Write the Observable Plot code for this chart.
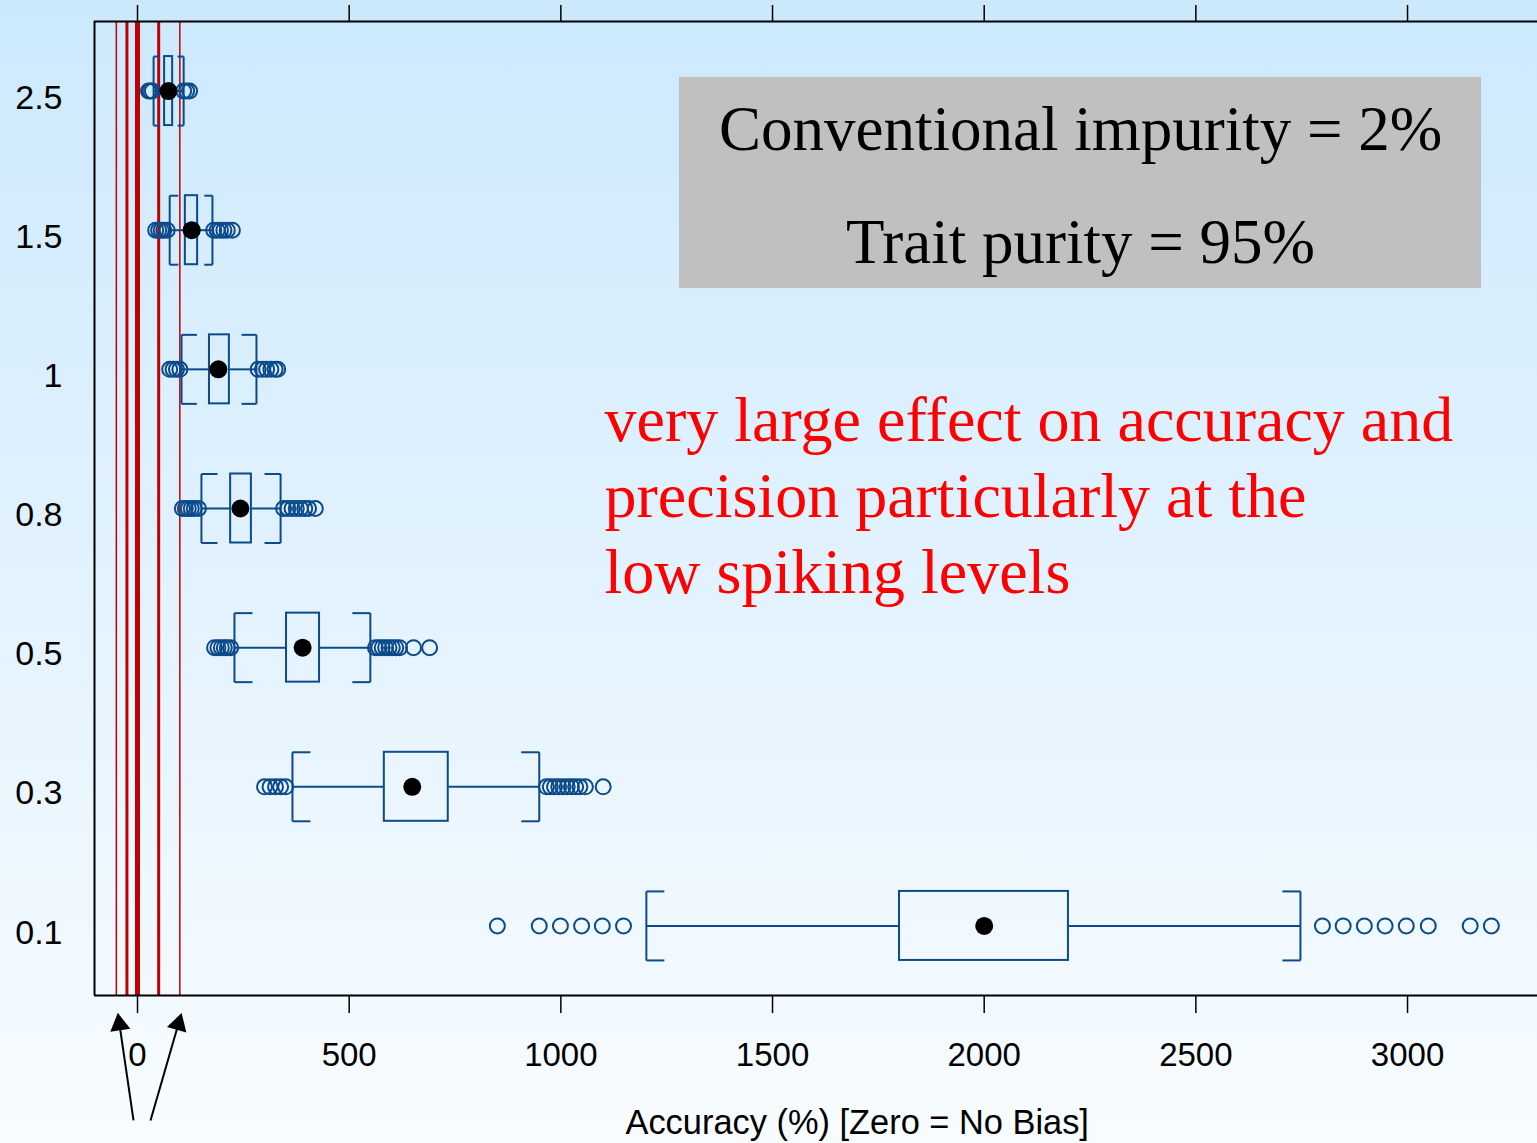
<!DOCTYPE html>
<html><head><meta charset="utf-8">
<script src="https://cdn.jsdelivr.net/npm/d3@7"></script>
<script src="https://cdn.jsdelivr.net/npm/@observablehq/plot@0.6"></script>
<style>
html,body{margin:0;padding:0;width:1537px;height:1143px;overflow:hidden;
background:linear-gradient(to bottom,#cce9fc 0%,#e4f3fe 55%,#f8fcff 100%);}
#chart svg{display:block;background:transparent;}
</style></head><body><div id="chart"></div>
<script>
// ---- data ----
const categories = ["0.1","0.3","0.5","0.8","1","1.5","2.5"];
const whiskerLow  = [1202, 366, 229, 151, 104,  76,  38];
const quartile1   = [1800, 583, 352, 220, 170, 113,  64];
const medians     = [2000, 649, 390, 243, 191, 128,  73];
const quartile3   = [2199, 734, 430, 269, 217, 142,  83];
const whiskerHigh = [2747, 949, 550, 338, 281, 177, 109];
const outlierValues = [
  [850, 949, 999, 1049, 1098, 1148, 2799, 2848, 2898, 2947, 2997, 3049, 3148, 3198],
  [300, 313, 326, 338, 350, 966, 975, 985, 995, 1005, 1015, 1025, 1035, 1045, 1058, 1100],
  [182, 190, 198, 205, 212, 220, 562, 570, 578, 586, 594, 602, 610, 619, 652, 690],
  [106, 113, 120, 127, 134, 144, 345, 355, 365, 375, 385, 395, 404, 420],
  [76, 84, 92, 100, 285, 295, 305, 315, 325, 331],
  [43, 50, 56, 62, 70, 180, 188, 196, 204, 212, 224],
  [26, 30, 35, 109, 116, 123]
];
const xTicks = [0, 500, 1000, 1500, 2000, 2500, 3000];
const refLines = [-50, -25, 0, 50, 100];
const boxLines = ["Conventional impurity = 2%", "Trait purity = 95%"];
const noteText = "very large effect on accuracy and\nprecision particularly at the\nlow spiking levels";
const xLabel = "Accuracy (%) [Zero = No Bias]";

// ---- layout / style ----
const W = 1537, H = 1143, mL = 94, mR = 0, mT = 21, mB = 148;
const xDomain = [-101.6, 3307], yDomain = [-0.5, 6.5];
const kx = (W - mL - mR) / (xDomain[1] - xDomain[0]);
const ky = (H - mT - mB) / (yDomain[1] - yDomain[0]);
const blue = "#0b4a8b";
const refWeight = {"-50": 1.5, "-25": 3, "0": 5, "50": 3, "100": 1.5};
const half = 0.248;

const stats = categories.map((c, i) => ({
  c, i, lo: whiskerLow[i], q1: quartile1[i], med: medians[i], q3: quartile3[i], hi: whiskerHigh[i],
  capLo: Math.min(0.55 * (quartile1[i] - whiskerLow[i]), 18 / kx),
  capHi: Math.min(0.55 * (whiskerHigh[i] - quartile3[i]), 18 / kx)
}));
const outRows = categories.flatMap((c, i) => outlierValues[i].map(v => ({c, i, v})));

// arrows (annotation) pointing to reference lines
const arrowRows = [
  {x1: -9.4, y1: -1.398, x2: -45, y2: -0.658},
  {x1: 30.7, y1: -1.398, x2: 101, y2: -0.658}
].map(a => {
  const dxp = (a.x2 - a.x1) * kx, dyp = -(a.y2 - a.y1) * ky;
  const len = Math.hypot(dxp, dyp);
  const ux = dxp / len, uy = dyp / len;
  const back = 7;
  return {...a, hx: a.x2 - ux * back / kx, hy: a.y2 + uy * back / ky,
          rot: Math.atan2(ux, -uy) * 180 / Math.PI};
});

const serif = "'Liberation Serif', 'Times New Roman', serif";
const plot = Plot.plot({
  width: W, height: H,
  marginLeft: mL, marginRight: mR, marginTop: mT, marginBottom: mB,
  style: {background: "transparent", fontFamily: "'Liberation Sans', Arial, sans-serif", fontSize: "33px", color: "black"},
  x: {domain: xDomain, range: [mL, W - mR]},
  y: {domain: yDomain},
  marks: [
    Plot.ruleX(refLines, {x: d => d, stroke: "#c00000", strokeWidth: d => refWeight[String(d)]}),
    // frame (left, top, bottom)
    Plot.ruleX([xDomain[0]], {stroke: "black", strokeWidth: 2}),
    Plot.ruleY(yDomain, {stroke: "black", strokeWidth: 2}),
    // grey annotation box
    Plot.rect([{x1: 1280.3, x2: 3174.8, y1: 4.581, y2: 6.098}], {x1: "x1", x2: "x2", y1: "y1", y2: "y2", fill: "#c0c0c0"}),
    Plot.text([boxLines[0]], {x: () => 2227.6, y: () => 5.718, text: d => d, fontFamily: serif, fontSize: 63, fill: "black"}),
    Plot.text([boxLines[1]], {x: () => 2227.6, y: () => 4.906, text: d => d, fontFamily: serif, fontSize: 63, fill: "black"}),
    Plot.text([noteText], {x: () => 1103.2, y: () => 3.873, text: d => d, textAnchor: "start", lineAnchor: "top", lineHeight: 1.19, fontFamily: serif, fontSize: 64, fill: "#ff0000"}),
    // whiskers
    Plot.link(stats, {x1: "lo", x2: "q1", y1: "i", y2: "i", stroke: blue, strokeWidth: 2}),
    Plot.link(stats, {x1: "q3", x2: "hi", y1: "i", y2: "i", stroke: blue, strokeWidth: 2}),
    // caps (brackets)
    Plot.link(stats, {x1: "lo", x2: "lo", y1: d => d.i - half, y2: d => d.i + half, stroke: blue, strokeWidth: 2}),
    Plot.link(stats, {x1: "hi", x2: "hi", y1: d => d.i - half, y2: d => d.i + half, stroke: blue, strokeWidth: 2}),
    Plot.link(stats, {x1: "lo", x2: d => d.lo + d.capLo, y1: d => d.i - half, y2: d => d.i - half, stroke: blue, strokeWidth: 2}),
    Plot.link(stats, {x1: "lo", x2: d => d.lo + d.capLo, y1: d => d.i + half, y2: d => d.i + half, stroke: blue, strokeWidth: 2}),
    Plot.link(stats, {x1: d => d.hi - d.capHi, x2: "hi", y1: d => d.i - half, y2: d => d.i - half, stroke: blue, strokeWidth: 2}),
    Plot.link(stats, {x1: d => d.hi - d.capHi, x2: "hi", y1: d => d.i + half, y2: d => d.i + half, stroke: blue, strokeWidth: 2}),
    // boxes
    Plot.rect(stats, {x1: "q1", x2: "q3", y1: d => d.i - half, y2: d => d.i + half, fill: "none", stroke: blue, strokeWidth: 2}),
    // outliers
    Plot.dot(outRows, {x: "v", y: "i", r: 7.5, stroke: blue, fill: "none", strokeWidth: 2}),
    // medians
    Plot.dot(stats, {x: "med", y: "i", r: 9, fill: "black", stroke: "none"}),
    // axes
    Plot.axisX({anchor: "bottom", ticks: xTicks, tickSize: 18, tickPadding: 29, strokeWidth: 1.5, tickFormat: d => String(d), label: null}),
    Plot.axisX({anchor: "top", ticks: xTicks, tickSize: 17, strokeWidth: 1.5, tickFormat: () => "", label: null}),
    Plot.axisY({anchor: "left", ticks: d3.range(categories.length), tickFormat: i => categories[i], tickSize: 0, tickPadding: 32, dy: 6.7, fontSize: 34, label: null}),
    Plot.text([xLabel], {x: () => 1700, y: () => -1.416, text: d => d, fontSize: 34.4, fill: "black"}),
    // arrows
    Plot.link(arrowRows, {x1: "x1", y1: "y1", x2: "hx", y2: "hy", stroke: "black", strokeWidth: 2}),
    Plot.dot(arrowRows, {x: "hx", y: "hy", symbol: "triangle", r: 7.5, fill: "black", rotate: "rot"})
  ]
});
document.getElementById("chart").appendChild(plot);
</script></body></html>
